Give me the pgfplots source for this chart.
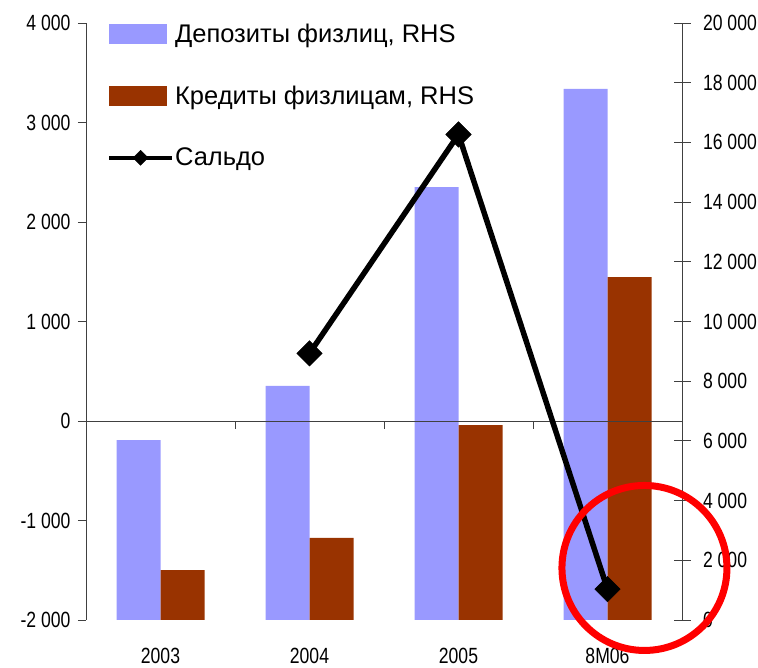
\documentclass[border=0pt]{standalone}
\usepackage{fontspec}
\setmainfont{Liberation Sans}
\newfontfamily\tickfont{Liberation Sans}[FakeStretch=0.8]
\usepackage{pgfplots}
\pgfplotsset{compat=1.18}
\definecolor{dep}{HTML}{9999FF}
\definecolor{cred}{HTML}{993300}
\definecolor{axgray}{HTML}{404040}

\begin{document}
\begin{tikzpicture}[x=1pt,y=1pt]
\useasboundingbox (0,0) rectangle (758,667);
% ---------- bars, right axis ----------
\begin{axis}[
  at={(86pt,47pt)}, anchor=south west,
  scale only axis, width=596pt, height=597pt,
  xmin=-0.5, xmax=3.5, ymin=0, ymax=20000,
  scaled y ticks=false,
  axis y line*=right, axis x line*=bottom,
  x axis line style={draw=none},
  y axis line style={axgray, line width=0.8pt},
  xtick={0,1,2,3}, xticklabels={2003,2004,2005,8M06},
  xtick style={draw=none},
  xticklabel style={yshift=-8pt},
  yticklabel style={xshift=9pt},
  ytick={0,2000,4000,6000,8000,10000,12000,14000,16000,18000,20000},
  yticklabels={0,2 000,4 000,6 000,8 000,10 000,12 000,14 000,16 000,18 000,20 000},
  ytick style={axgray, line width=0.8pt},
  tick align=center, major tick length=17pt,
  tick label style={font=\tickfont\fontsize{22}{24}\selectfont},
  ybar=0pt, bar width=44pt,
  legend style={at={(0.035,1.0)}, anchor=north west, draw=none, fill=none,
    font=\fontsize{25.5}{29}\selectfont, row sep=40pt,
    nodes={inner sep=1pt}, inner sep=0pt},
  /tikz/every even column/.append style={column sep=6pt},
  legend cell align=left,
]
\addplot[fill=dep, draw=none,
  legend image code/.code={\fill[dep] (0pt,-10pt) rectangle (58pt,10pt);}]
  coordinates {(0,6030) (1,7840) (2,14500) (3,17790)};
\addlegendentry{Депозиты физлиц, RHS}
\addplot[fill=cred, draw=none,
  legend image code/.code={\fill[cred] (0pt,-10pt) rectangle (58pt,10pt);}]
  coordinates {(0,1675) (1,2750) (2,6530) (3,11490)};
\addlegendentry{Кредиты физлицам, RHS}
\addlegendimage{legend image code/.code={
  \draw[black, line width=4pt] (0pt,0pt) -- (63pt,0pt);
  \fill[black] (31.5pt,0pt) +(-7.5pt,0pt) -- +(0pt,7.5pt) -- +(7.5pt,0pt) -- +(0pt,-7.5pt) -- cycle;}}
\addlegendentry{Сальдо}
\end{axis}
% ---------- line, left axis ----------
\begin{axis}[
  at={(86pt,47pt)}, anchor=south west,
  scale only axis, width=596pt, height=597pt,
  xmin=-0.5, xmax=3.5, ymin=-2000, ymax=4000,
  axis y line*=left, axis x line*=middle,
  axis line style={axgray, line width=0.8pt},
  xtick={-0.5,0.5,1.5,2.5,3.5}, xticklabels={},
  ytick={-2000,-1000,0,1000,2000,3000,4000},
  yticklabels={-2 000,-1 000,0,1 000,2 000,3 000,4 000},
  yticklabel style={xshift=-4pt},
  tick style={axgray, line width=0.8pt},
  tick align=outside, major tick length=8pt,
  tick label style={font=\tickfont\fontsize{22}{24}\selectfont},
  clip=false,
]
\addplot[black, line width=5.5pt, mark=square*, mark size=9pt,
  mark options={rotate=45, line width=0.5pt}]
  coordinates {(1,680) (2,2880) (3,-1690)};
\draw[red, line width=7pt] (axis cs:3.248,-1477) circle[radius=82.5pt];
\end{axis}
\end{tikzpicture}
\end{document}
